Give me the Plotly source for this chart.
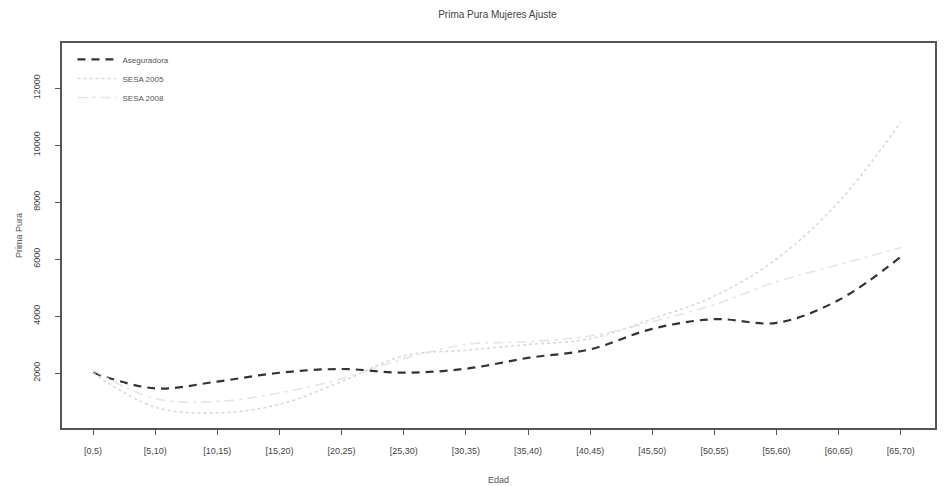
import plotly.graph_objects as go

# Age bands (x axis)
edades = ["[0,5)", "[5,10)", "[10,15)", "[15,20)", "[20,25)", "[25,30)", "[30,35)",
          "[35,40)", "[40,45)", "[45,50)", "[50,55)", "[55,60)", "[60,65)", "[65,70)"]

# Pure premium by age band
aseguradora = [2010, 1460, 1700, 2010, 2140, 2010, 2150, 2530, 2830, 3550, 3890, 3760, 4560, 6080]
sesa_2005 = [2000, 800, 600, 900, 1700, 2600, 2800, 3000, 3200, 3900, 4700, 6000, 8000, 10800]
sesa_2008 = [2100, 1100, 1000, 1300, 1800, 2500, 3000, 3100, 3300, 3800, 4400, 5200, 5800, 6400]

y_ticks = [2000, 4000, 6000, 8000, 10000, 12000]

x_pos = list(range(len(edades)))

fig = go.Figure()
fig.add_trace(go.Scatter(
    x=x_pos, y=aseguradora, name="Aseguradora", mode="lines",
    line=dict(color="#333333", width=2.2, dash="8px,6px", shape="spline", smoothing=1.0),
))
fig.add_trace(go.Scatter(
    x=x_pos, y=sesa_2005, name="SESA 2005", mode="lines",
    line=dict(color="#d9d9d9", width=1.6, dash="dot", shape="spline", smoothing=1.0),
))
fig.add_trace(go.Scatter(
    x=x_pos, y=sesa_2008, name="SESA 2008", mode="lines",
    line=dict(color="#e5e5e5", width=1.6, dash="10px,5px,3px,5px", shape="spline", smoothing=1.0),
))

axis_font = dict(family="Liberation Sans, Arial, sans-serif", size=9, color="#444444")

fig.update_layout(
    width=951, height=486,
    margin=dict(l=62, r=16, t=43, b=58),
    paper_bgcolor="white", plot_bgcolor="white",
    font=dict(family="Liberation Sans, Arial, sans-serif", size=9, color="#444444"),
    title=dict(text="Prima Pura Mujeres Ajuste", x=0.523, xanchor="center",
               y=0.97, yanchor="middle", font=dict(size=10, color="#444444")),
    showlegend=True,
    legend=dict(x=0.012, y=0.995, xanchor="left", yanchor="top",
                bgcolor="rgba(0,0,0,0)", font=dict(size=8, color="#555555"),
                itemwidth=40, tracegroupgap=0),
)

fig.update_xaxes(
    range=[-0.5, 13.55], tickmode="array", tickvals=x_pos, ticktext=edades,
    showgrid=False, zeroline=False, automargin=False,
    showline=True, linecolor="#555555", linewidth=1.5, mirror=True,
    ticks="outside", ticklen=5, tickcolor="#555555",
    tickfont=axis_font, ticklabelstandoff=8,
    title=dict(text="Edad", font=dict(size=9, color="#555555"), standoff=22),
)
fig.update_yaxes(
    range=[70, 13580], tickmode="array", tickvals=y_ticks,
    ticktext=[str(v) for v in y_ticks],
    showgrid=False, zeroline=False, automargin=False,
    showline=True, linecolor="#555555", linewidth=1.5, mirror=True,
    ticks="outside", ticklen=5, tickcolor="#555555",
    tickangle=-90, tickfont=axis_font, ticklabelstandoff=12,
    title=dict(text="Prima Pura", font=dict(size=9, color="#555555"), standoff=8),
)

fig.write_html("out.html")
